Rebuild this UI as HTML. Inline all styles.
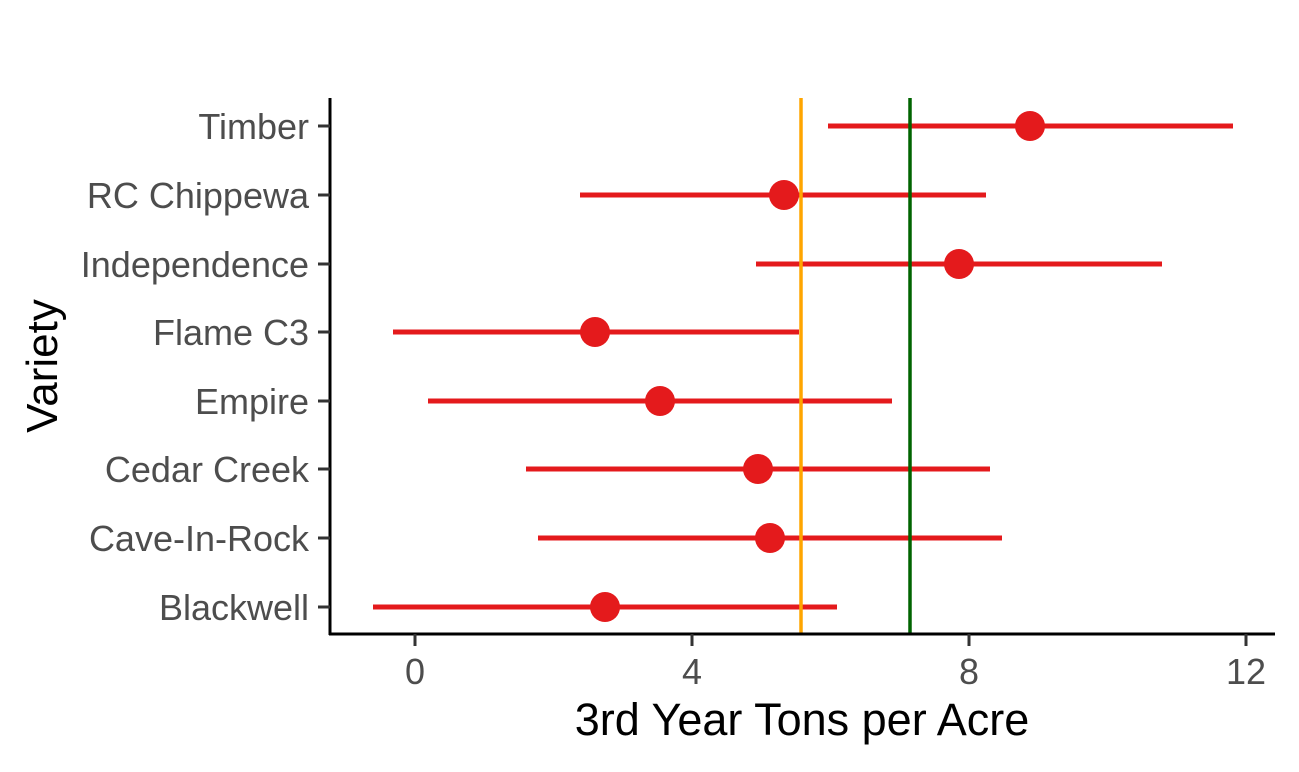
<!DOCTYPE html>
<html><head><meta charset="utf-8"><style>html,body{margin:0;padding:0;background:#fff}</style></head>
<body>
<svg width="1299" height="767" xmlns="http://www.w3.org/2000/svg" font-family="Liberation Sans, Arial, sans-serif">
<rect width="1299" height="767" fill="#fff"/>
<g stroke="#e41a1c" stroke-width="5">
<line x1="828" y1="126" x2="1233" y2="126"/>
<line x1="580" y1="195" x2="986" y2="195"/>
<line x1="756" y1="264" x2="1162" y2="264"/>
<line x1="393" y1="332" x2="799" y2="332"/>
<line x1="428" y1="401" x2="892" y2="401"/>
<line x1="526" y1="469" x2="990" y2="469"/>
<line x1="538" y1="538" x2="1002" y2="538"/>
<line x1="373" y1="607" x2="837" y2="607"/>
</g>
<g fill="#e41a1c">
<circle cx="1030" cy="126" r="15"/>
<circle cx="784" cy="195" r="15"/>
<circle cx="959" cy="264" r="15"/>
<circle cx="595" cy="332" r="15"/>
<circle cx="660" cy="401" r="15"/>
<circle cx="758" cy="469" r="15"/>
<circle cx="770" cy="538" r="15"/>
<circle cx="605" cy="607" r="15"/>
</g>
<line x1="801" y1="98" x2="801" y2="634" stroke="#ffa500" stroke-width="3.5"/>
<line x1="910" y1="98" x2="910" y2="634" stroke="#006400" stroke-width="3.5"/>
<g stroke="#000" stroke-width="3">
<line x1="330" y1="98" x2="330" y2="635"/>
<line x1="329" y1="634" x2="1275" y2="634"/>
</g>
<g stroke="#333" stroke-width="3">
<line x1="318" y1="126" x2="330" y2="126"/><line x1="318" y1="195" x2="330" y2="195"/>
<line x1="318" y1="264" x2="330" y2="264"/><line x1="318" y1="332" x2="330" y2="332"/>
<line x1="318" y1="401" x2="330" y2="401"/><line x1="318" y1="469" x2="330" y2="469"/>
<line x1="318" y1="538" x2="330" y2="538"/><line x1="318" y1="607" x2="330" y2="607"/>
<line x1="415" y1="634" x2="415" y2="646"/><line x1="692" y1="634" x2="692" y2="646"/>
<line x1="969" y1="634" x2="969" y2="646"/><line x1="1246" y1="634" x2="1246" y2="646"/>
</g>
<g fill="#4d4d4d" font-size="36" text-anchor="end">
<text x="309" y="139">Timber</text>
<text x="309" y="208">RC Chippewa</text>
<text x="309" y="277">Independence</text>
<text x="309" y="345">Flame C3</text>
<text x="309" y="414">Empire</text>
<text x="309" y="482">Cedar Creek</text>
<text x="309" y="551">Cave-In-Rock</text>
<text x="309" y="620">Blackwell</text>
</g>
<g fill="#4d4d4d" font-size="36" text-anchor="middle">
<text x="415" y="684">0</text><text x="692" y="684">4</text>
<text x="969" y="684">8</text><text x="1246" y="684">12</text>
</g>
<text x="802" y="735" font-size="45" text-anchor="middle" fill="#000">3rd Year Tons per Acre</text>
<text transform="translate(57,366) rotate(-90)" font-size="44" text-anchor="middle" fill="#000">Variety</text>
</svg>
</body></html>
